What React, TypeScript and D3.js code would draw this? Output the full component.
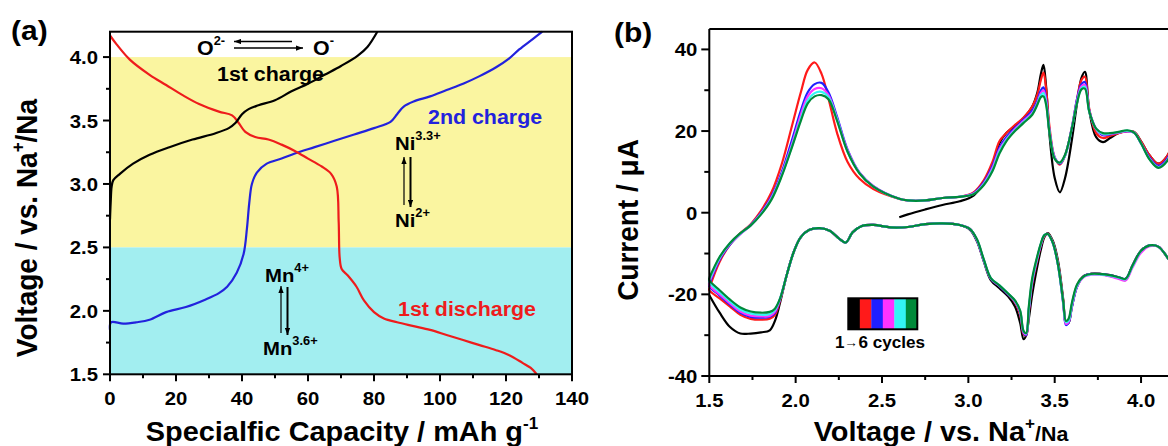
import React from "react";
import * as d3 from "d3";

// ---------- Panel (a): charge / discharge profiles [capacity mAh/g, voltage V] ----------
const firstCharge: [number, number][] = [
  [0, 2.72], [0.2, 2.85], [0.5, 2.98], [1, 3.03], [3, 3.08], [7, 3.16], [12, 3.23], [18, 3.29],
  [25, 3.35], [32, 3.4], [36, 3.44], [38, 3.48], [40, 3.55], [42, 3.59], [45, 3.62], [50, 3.66],
  [55, 3.73], [60, 3.79], [65, 3.86], [70, 3.93], [75, 4.01], [78, 4.08], [81, 4.2],
];
const firstDischarge: [number, number][] = [
  [0, 4.17], [2, 4.1], [6, 3.98], [12, 3.86], [17, 3.78], [22, 3.7], [27, 3.63], [33, 3.57],
  [37, 3.54], [39, 3.48], [41, 3.41], [44, 3.37], [48, 3.35], [52, 3.31], [56, 3.26], [60, 3.2],
  [64, 3.14], [67, 3.08], [68.7, 2.98], [69.3, 2.7], [69.6, 2.42], [70.2, 2.33], [72, 2.28],
  [74.7, 2.19], [77, 2.08], [80, 1.99], [83, 1.94], [87, 1.91], [92, 1.88], [97, 1.85],
  [102, 1.81], [107, 1.77], [112, 1.73], [117, 1.69], [121, 1.65], [125, 1.59], [127.5, 1.55], [129.3, 1.5],
];
const secondCharge: [number, number][] = [
  [0, 1.85], [0.3, 1.91], [4, 1.9], [8, 1.91], [12, 1.93], [17, 1.99], [23, 2.03], [29, 2.09],
  [33, 2.14], [35.5, 2.19], [38.4, 2.3], [40.5, 2.45], [41.5, 2.65], [42.2, 2.85], [43, 3.0],
  [44.5, 3.09], [47.5, 3.16], [52, 3.2], [56, 3.24], [62, 3.29], [68, 3.34], [74, 3.39], [80, 3.44],
  [85, 3.49], [87, 3.55], [89, 3.61], [92, 3.65], [97, 3.69], [102, 3.74], [107, 3.79], [112, 3.85],
  [117, 3.92], [121, 3.99], [124, 4.06], [128, 4.14], [131, 4.2],
];
const capTicks = [0, 20, 40, 60, 80, 100, 120, 140];
const capMinor = [10, 30, 50, 70, 90, 110, 130];
const voltTicks = [1.5, 2.0, 2.5, 3.0, 3.5, 4.0];
const voltMinor = [1.75, 2.25, 2.75, 3.25, 3.75];

// ---------- Panel (b): cyclic voltammetry, six cycles ----------
const anodicV = [1.5, 1.56, 1.62, 1.68, 1.74, 1.8, 1.86, 1.92, 1.98, 2.03, 2.07, 2.11, 2.15, 2.19, 2.24, 2.3, 2.37, 2.45,
  2.6, 2.65, 2.75, 2.85, 2.95, 3.03, 3.09, 3.14, 3.18, 3.22, 3.27, 3.32, 3.37, 3.4, 3.42, 3.435, 3.45, 3.47, 3.5, 3.53,
  3.56, 3.6, 3.63, 3.655, 3.675, 3.7, 3.74, 3.78, 3.82, 3.87, 3.92, 3.96, 4.0, 4.05, 4.1, 4.15, 4.2, 4.25];
const N = null;
const anodic1 = [N, N, N, N, N, N, N, N, N, N, N, N, N, N, N, N, N, N,
  -1.1, -0.4, 0.8, 1.9, 2.8, 4.2, 7.5, 11.5, 17, 19.5, 21.3, 23.2, 26, 29.5, 34, 36.2, 31, 19, 8.5, 5,
  8.5, 18, 27, 33, 34.5, 25, 18.5, 17.3, 18.3, 19.5, 20, 19.8, 17.5, 14, 12, 13.8, 19, 27];
const anodic2 = [-18.5, -12, -7.8, -5, -2.8, 0.5, 5, 12, 21.5, 29.5, 35, 36.8, 34, 28, 19.5, 12.5, 8.3, 5.8,
  3.4, 3.0, 3.0, 3.6, 3.9, 5, 8, 12.5, 17.5, 19.5, 21.5, 23.3, 26, 29, 32.5, 34.3, 30.5, 21, 13.5, 11.8,
  14, 21, 28, 32.5, 33.3, 25.5, 19.5, 18.3, 18.8, 19.5, 20, 19.8, 17.5, 14, 12, 13.8, 19, 27];
const anodic3 = [-17.5, -11.5, -7.8, -5.2, -3, 0, 4, 10, 18, 25, 29.5, 31.5, 31.8, 29.5, 23.5, 15.5, 9.8, 6.5,
  3.4, 3.0, 3.0, 3.6, 3.9, 4.8, 7.5, 11.5, 16, 18.5, 20.8, 22.8, 25, 27.5, 30, 30.7, 28, 20, 13.5, 12,
  14, 21, 28, 31.5, 32, 25, 20.5, 19, 19.2, 19.6, 20, 19.6, 17, 13.5, 11.5, 13.2, 18.5, 26.5];
const anodic4 = [-17, -11.2, -7.6, -5.2, -3.1, -0.2, 3.7, 9.5, 17, 24, 28.5, 30.3, 30.5, 28.8, 23, 15.3, 9.8, 6.5,
  3.4, 3.0, 3.0, 3.6, 3.9, 4.7, 7.2, 11, 15.5, 18, 20.5, 22.5, 24.5, 27, 29.3, 30, 27.5, 20, 13.5, 12.2,
  14, 21, 27.5, 31, 31.3, 25, 20.5, 19.2, 19.3, 19.6, 20, 19.6, 17, 13.2, 11.2, 12.8, 18, 26];
const anodic5 = [-16.5, -11, -7.5, -5.1, -3.1, -0.3, 3.4, 9.2, 16.5, 23, 27.5, 29.3, 29.6, 28.3, 22.8, 15, 9.7, 6.4,
  3.4, 3.0, 3.0, 3.6, 3.9, 4.6, 7, 10.5, 15, 17.8, 20.2, 22.2, 24.2, 26.7, 28.8, 29.3, 27, 19.8, 13.3, 12.2,
  14, 20.8, 27.2, 30.5, 30.8, 24.8, 20.5, 19.3, 19.4, 19.7, 20.1, 19.6, 17, 13.1, 11.1, 12.7, 17.8, 25.8];
const anodic6 = [-16, -10.8, -7.4, -5, -3.1, -0.4, 3.2, 9, 16.2, 22.5, 26.8, 28.5, 28.8, 27.8, 22.5, 15, 9.6, 6.4,
  3.4, 3.0, 3.0, 3.6, 3.9, 4.5, 6.8, 10.2, 14.5, 17.5, 20, 22, 24, 26.5, 28.3, 28.5, 26.5, 19.5, 13.2, 12.3,
  14.2, 20.8, 27, 30.2, 30.4, 24.8, 20.6, 19.5, 19.5, 19.8, 20.2, 19.6, 17, 13, 11, 12.6, 17.6, 25.6];

const cathodicV = [4.25, 4.2, 4.15, 4.1, 4.05, 4.0, 3.95, 3.91, 3.87, 3.82, 3.76, 3.71, 3.67, 3.63, 3.6, 3.58, 3.565,
  3.55, 3.52, 3.49, 3.46, 3.44, 3.42, 3.4, 3.37, 3.35, 3.335, 3.32, 3.3, 3.27, 3.23, 3.18, 3.13, 3.09, 3.05, 3.01,
  2.95, 2.85, 2.75, 2.65, 2.55, 2.45, 2.38, 2.33, 2.29, 2.25, 2.2, 2.14, 2.08, 2.03, 1.99, 1.95, 1.91, 1.88, 1.85,
  1.8, 1.74, 1.68, 1.62, 1.56, 1.5];
const cathodic1 = [-17, -14, -10.8, -8.3, -8, -9.3, -13, -16.5, -16, -15.5, -15, -15, -15.5, -18, -23,
  -27, -27, -21.5, -12, -7, -5, -6, -9, -13, -20, -26, -30, -31, -27, -23, -20.5, -18.5, -16.5, -12, -7,
  -4.2, -3, -2.6, -2.8, -3.5, -3.6, -3, -3.3, -4.8, -7.3, -6.3, -4.5, -3.8, -4.2, -6, -9.5, -15, -22, -26.5, -28.8,
  -29.3, -29.6, -29.6, -28, -24.5, -20.2];
const cathodic2 = [-17, -14, -10.8, -8.3, -8, -9.3, -13, -16.3, -15.8, -15.3, -15, -15, -15.5, -17.8, -22.5,
  -26.8, -27, -21.8, -12.5, -7.3, -5.1, -5.8, -8, -11.5, -17.5, -24.5, -30, -29.8, -25, -22, -20, -18, -16.2, -11.8, -6.8,
  -4, -3, -2.6, -2.8, -3.5, -3.6, -3, -3.3, -4.8, -7.3, -6.3, -4.5, -3.8, -4.2, -6, -9.5, -15, -21.5, -25, -26,
  -26.2, -26, -25, -23, -21, -19];
const cathodic3 = [-17, -14, -10.8, -8.3, -8, -9.3, -13, -16.2, -15.8, -15.3, -15, -15, -15.5, -18, -23,
  -27, -27.5, -22.5, -13, -7.5, -5.2, -5.6, -7.8, -11, -17, -24, -30, -29.5, -24.5, -21.8, -20, -18, -16.2, -11.8, -6.8,
  -4, -3, -2.6, -2.8, -3.5, -3.6, -3, -3.3, -4.8, -7.3, -6.3, -4.5, -3.8, -4.2, -6, -9.5, -15, -21.2, -24.5, -25.5,
  -25.7, -25.5, -24.5, -22.5, -20.3, -18];
const cathodic4 = [-17, -14, -10.8, -8.3, -8.2, -9.8, -13.5, -16.6, -16.2, -15.6, -15.2, -15.2, -15.7, -18, -22.8,
  -26.8, -27.2, -22.3, -13, -7.5, -5.2, -5.6, -7.8, -11, -16.8, -23.8, -29.8, -29.3, -24.3, -21.7, -19.9, -17.9, -16.1, -11.7, -6.7,
  -4, -3, -2.6, -2.8, -3.5, -3.6, -3, -3.3, -4.8, -7.3, -6.3, -4.5, -3.8, -4.2, -6, -9.5, -15, -21.1, -24.2, -25.3,
  -25.4, -25.2, -24.2, -22.2, -20, -17.8];
const cathodic5 = [-17, -14, -10.8, -8.3, -8, -9.4, -13.2, -16.3, -15.9, -15.4, -15.1, -15.1, -15.6, -17.8, -22.4,
  -26.5, -26.8, -22.2, -13, -7.5, -5.2, -5.5, -7.6, -10.8, -16.5, -23.5, -29.6, -29.1, -24.1, -21.6, -19.8, -17.8, -16, -11.6, -6.6,
  -4, -3, -2.6, -2.8, -3.5, -3.6, -3, -3.3, -4.8, -7.3, -6.3, -4.5, -3.8, -4.2, -6, -9.5, -15, -21, -23.8, -24.8,
  -25, -24.7, -23.7, -21.7, -19.5, -17];
const cathodic6 = [-17, -14, -10.8, -8.3, -8, -9.3, -13, -16.2, -15.8, -15.3, -15, -15, -15.5, -17.5, -22,
  -26, -26.5, -22, -13, -7.5, -5.2, -5.5, -7.5, -10.5, -16, -23, -29.5, -29, -24, -21.5, -19.8, -17.8, -16, -11.5, -6.5,
  -4, -3, -2.6, -2.8, -3.5, -3.6, -3, -3.3, -4.8, -7.3, -6.3, -4.5, -3.8, -4.2, -6, -9.5, -15, -21, -23.5, -24.3,
  -24.5, -24.2, -23.2, -21.3, -19, -16.5];
const cycleColors = ["#000000", "#ff1a1a", "#1f1fff", "#ff33ff", "#33f5f5", "#008a3a"];
const anodicAll = [anodic1, anodic2, anodic3, anodic4, anodic5, anodic6];
const cathodicAll = [cathodic1, cathodic2, cathodic3, cathodic4, cathodic5, cathodic6];
const cvXTicks = [1.5, 2.0, 2.5, 3.0, 3.5, 4.0];
const cvXMinor = [1.75, 2.25, 2.75, 3.25, 3.75];
const cvYTicks = [-40, -20, 0, 20, 40];
const cvYMinor = [-30, -10, 10, 30];

const SX = 1.07;
const FONT = "'Liberation Sans', Arial, Helvetica, sans-serif";

function Txt(p: { x: number; y: number; size: number; anchor?: string; fill?: string; rot?: boolean; children: any }) {
  return (
    <text
      transform={`translate(${p.x},${p.y}) scale(${SX},1)${p.rot ? " rotate(-90)" : ""}`}
      fontSize={p.size}
      fontWeight="bold"
      fontFamily={FONT}
      textAnchor={p.anchor || "start"}
      fill={p.fill || "#000"}
    >
      {p.children}
    </text>
  );
}

export default function App() {
  // Panel (a) scales
  const xA = d3.scaleLinear().domain([0, 140]).range([110, 572]);
  const yA = d3.scaleLinear().domain([1.5, 4.2]).range([374.3, 31.7]);
  const lineA = d3.line<[number, number]>().x((d) => xA(d[0])).y((d) => yA(d[1])).curve(d3.curveCatmullRom.alpha(0.5));

  // Panel (b) scales
  const xB = d3.scaleLinear().domain([1.5, 4.3]).range([709.3, 709.3 + 2.8 * 172.7]);
  const yB = d3.scaleLinear().domain([-40, 45]).range([376, 29]);
  const lineB = d3.line<[number, number]>().x((d) => xB(d[0])).y((d) => yB(d[1])).curve(d3.curveCatmullRom.alpha(0.5));

  const cyclePaths = anodicAll.map((an, i) => {
    const up: [number, number][] = [];
    an.forEach((v, k) => { if (v !== null) up.push([anodicV[k], v as number]); });
    const down: [number, number][] = cathodicAll[i].map((v, k) => [cathodicV[k], v]);
    const pts = up.concat(down);
    if (i > 0) pts.push(up[0]);
    return lineB(pts) || "";
  });

  const aL = xA.range()[0], aR = xA.range()[1], aT = yA.range()[1], aB = yA.range()[0];
  const bL = xB.range()[0], bR = xB.range()[1], bT = yB.range()[1], bB = yB.range()[0];

  const legendX = 848.3, legendY = 298.3, legendW = 69, legendH = 31;

  return (
    <svg width={1168} height={446} style={{ position: "absolute", left: 0, top: 0, background: "#fff" }}>
      <defs>
        <marker id="ah" viewBox="0 0 8 6" refX={8} refY={3} markerWidth={7} markerHeight={5.5} markerUnits="userSpaceOnUse" orient="auto">
          <path d="M0,0 L8,3 L0,6 Z" fill="#000" />
        </marker>
      </defs>
      <rect x={0} y={0} width={1168} height={446} fill="#fff" />

      {/* ======== Panel (a) ======== */}
      <rect x={aL} y={yA(4.0)} width={aR - aL} height={yA(2.5) - yA(4.0)} fill="#faf5a0" />
      <rect x={aL} y={yA(2.5)} width={aR - aL} height={yA(1.5) - yA(2.5)} fill="#a2eef0" />

      <path d={lineA(secondCharge) || ""} fill="none" stroke="#2222dd" strokeWidth={2.2} />
      <path d={lineA(firstDischarge) || ""} fill="none" stroke="#ee1c1c" strokeWidth={2.2} />
      <path d={lineA(firstCharge) || ""} fill="none" stroke="#000" strokeWidth={2.2} />

      {/* annotations */}
      <Txt x={197} y={55} size={20}>O<tspan fontSize={12} dy={-10}>2-</tspan></Txt>
      <line x1={292} y1={41.5} x2={234} y2={41.5} stroke="#000" strokeWidth={1.3} markerEnd="url(#ah)" />
      <line x1={234} y1={48} x2={303} y2={48} stroke="#000" strokeWidth={1.3} markerEnd="url(#ah)" />
      <Txt x={313} y={55} size={20}>O<tspan fontSize={12} dy={-10}>-</tspan></Txt>
      <Txt x={217} y={81} size={20}>1st charge</Txt>
      <Txt x={428} y={124} size={20} fill="#2222dd">2nd charge</Txt>
      <Txt x={395} y={150} size={19}>Ni<tspan fontSize={12} dy={-10}>3.3+</tspan></Txt>
      <line x1={404} y1={205} x2={404} y2={157} stroke="#000" strokeWidth={1.2} markerEnd="url(#ah)" />
      <line x1={410.5} y1={157} x2={410.5} y2={207} stroke="#000" strokeWidth={2} markerEnd="url(#ah)" />
      <Txt x={395} y={227} size={19}>Ni<tspan fontSize={12} dy={-10}>2+</tspan></Txt>
      <Txt x={265} y={282} size={19}>Mn<tspan fontSize={12} dy={-10}>4+</tspan></Txt>
      <line x1={281} y1={333} x2={281} y2={286} stroke="#000" strokeWidth={1.2} markerEnd="url(#ah)" />
      <line x1={287.5} y1={287} x2={287.5} y2={335} stroke="#000" strokeWidth={2} markerEnd="url(#ah)" />
      <Txt x={263} y={355} size={19}>Mn<tspan fontSize={12} dy={-10}>3.6+</tspan></Txt>
      <Txt x={398} y={316} size={20} fill="#ee1c1c">1st discharge</Txt>

      {/* frame and axes */}
      <rect x={aL} y={aT} width={aR - aL} height={aB - aT} fill="none" stroke="#000" strokeWidth={2} />
      {capTicks.map((t) => (
        <g key={"ca" + t}>
          <line x1={xA(t)} x2={xA(t)} y1={aB} y2={aB + 7} stroke="#000" strokeWidth={2} />
          <Txt x={xA(t)} y={aB + 31} size={19} anchor="middle">{String(t)}</Txt>
        </g>
      ))}
      {capMinor.map((t) => (
        <line key={"cm" + t} x1={xA(t)} x2={xA(t)} y1={aB} y2={aB + 4} stroke="#000" strokeWidth={2} />
      ))}
      {voltTicks.map((t) => (
        <g key={"va" + t}>
          <line x1={aL - 7} x2={aL} y1={yA(t)} y2={yA(t)} stroke="#000" strokeWidth={2} />
          <Txt x={aL - 12} y={yA(t) + 7} size={19} anchor="end">{t.toFixed(1)}</Txt>
        </g>
      ))}
      {voltMinor.map((t) => (
        <line key={"vm" + t} x1={aL - 4} x2={aL} y1={yA(t)} y2={yA(t)} stroke="#000" strokeWidth={2} />
      ))}
      <Txt x={342} y={441} size={27} anchor="middle">Specialfic Capacity / mAh g<tspan fontSize={16} dy={-12}>-1</tspan></Txt>
      <Txt x={37} y={228} size={28} anchor="middle" rot>Voltage / vs. Na<tspan fontSize={17} dy={-12}>+</tspan><tspan dy={12}>/Na</tspan></Txt>
      <Txt x={11} y={40} size={28}>(a)</Txt>

      {/* ======== Panel (b) ======== */}
      {cyclePaths.map((d, i) => (
        <path key={"cv" + i} d={d} fill="none" stroke={cycleColors[i]} strokeWidth={2.2} strokeLinejoin="round" />
      ))}
      <line x1={bL} x2={bR} y1={bT} y2={bT} stroke="#000" strokeWidth={2} />
      <line x1={bR} x2={bR} y1={bT} y2={bB} stroke="#000" strokeWidth={2} />
      <line x1={bL} x2={bL} y1={bT} y2={bB} stroke="#000" strokeWidth={2} />
      <line x1={bL} x2={bR} y1={bB} y2={bB} stroke="#000" strokeWidth={2} />
      {cvXTicks.map((t) => (
        <g key={"bx" + t}>
          <line x1={xB(t)} x2={xB(t)} y1={bB} y2={bB + 7} stroke="#000" strokeWidth={2} />
          <Txt x={xB(t)} y={bB + 31} size={19} anchor="middle">{t.toFixed(1)}</Txt>
        </g>
      ))}
      {cvXMinor.map((t) => (
        <line key={"bxm" + t} x1={xB(t)} x2={xB(t)} y1={bB} y2={bB + 4} stroke="#000" strokeWidth={2} />
      ))}
      {cvYTicks.map((t) => (
        <g key={"by" + t}>
          <line x1={bL - 8} x2={bL} y1={yB(t)} y2={yB(t)} stroke="#000" strokeWidth={2} />
          <Txt x={bL - 12} y={yB(t) + 7} size={19} anchor="end">{String(t)}</Txt>
        </g>
      ))}
      {cvYMinor.map((t) => (
        <line key={"bym" + t} x1={bL - 5} x2={bL} y1={yB(t)} y2={yB(t)} stroke="#000" strokeWidth={2} />
      ))}
      {/* legend */}
      {cycleColors.map((c, i) => (
        <rect key={"lg" + i} x={legendX + (i * legendW) / 6} y={legendY} width={legendW / 6 + 0.3} height={legendH} fill={c} />
      ))}
      <rect x={legendX} y={legendY} width={legendW} height={legendH} fill="none" stroke="#000" strokeWidth={2} />
      <Txt x={835} y={348} size={16}>1<tspan fontSize={13} dy={-1}>→</tspan><tspan dy={1}>6 cycles</tspan></Txt>

      <Txt x={941} y={441} size={27} anchor="middle">Voltage / vs. Na<tspan fontSize={16} dy={-12}>+</tspan><tspan dy={12} fontSize={20}>/Na</tspan></Txt>
      <Txt x={638} y={220} size={28} anchor="middle" rot>Current / μA</Txt>
      <Txt x={614} y={42} size={28}>(b)</Txt>
    </svg>
  );
}
